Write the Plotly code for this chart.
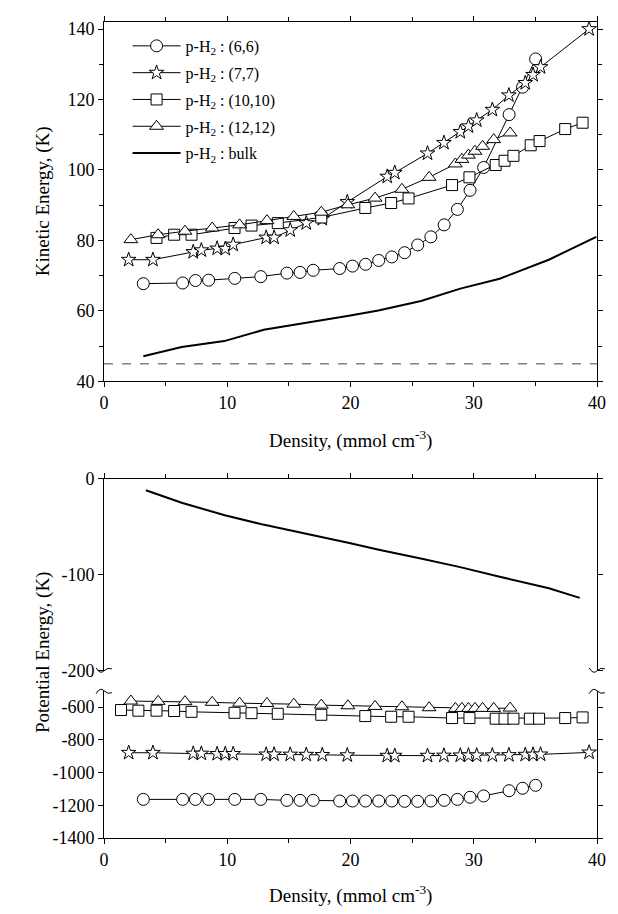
import plotly.graph_objects as go

# ---------------- data ----------------
# Kinetic energy (top panel) and potential energy (bottom panel)
x_66 = [3.19, 6.38, 7.42, 8.49, 10.61, 12.72, 14.84, 15.91, 16.97, 19.12, 20.16, 21.22,
        22.29, 23.35, 24.39, 25.45, 26.52, 27.60, 28.67, 29.70, 30.80, 32.87, 33.96, 35.02]
ke_66 = [67.7, 67.9, 68.6, 68.7, 69.2, 69.7, 70.7, 70.9, 71.5, 72.0, 72.7, 73.2,
         74.3, 75.3, 76.5, 78.7, 81.0, 84.4, 88.8, 94.2, 100.7, 115.7, 123.5, 131.5]
pe_66 = [-1164, -1164, -1164, -1164, -1164, -1164, -1170, -1170, -1170, -1174, -1174, -1174,
         -1174, -1174, -1176, -1176, -1174, -1170, -1164, -1151, -1143, -1111, -1096, -1078]

x_77 = [2.00, 3.97, 7.24, 7.90, 9.18, 9.84, 10.48, 13.16, 13.80, 15.11, 16.41, 17.71, 19.74,
        22.98, 23.59, 26.25, 27.58, 28.91, 29.57, 30.24, 31.51, 32.85, 34.18, 34.81, 35.42, 39.36]
ke_77 = [74.5, 74.5, 76.7, 77.2, 77.7, 77.6, 78.8, 80.8, 80.8, 82.9, 84.9, 86.1, 90.9,
         98.1, 99.2, 104.7, 107.7, 110.8, 112.4, 114.1, 117.1, 121.2, 124.7, 127.0, 129.2, 140.0]
pe_77 = [-879, -879, -884, -884, -886, -886, -886, -889, -889, -890, -891, -892, -894,
         -897, -897, -897, -896, -895, -895, -895, -894, -893, -891, -890, -889, -877]

x_1010_ke = [4.26, 5.69, 7.10, 10.59, 11.97, 14.10, 17.63, 21.20, 23.30, 24.71,
             28.24, 29.65, 31.78, 32.50, 33.22, 34.62, 35.34, 37.42, 38.83]
ke_1010 = [80.7, 81.6, 81.6, 83.5, 84.2, 84.9, 86.5, 89.2, 90.6, 91.9,
           95.7, 97.9, 101.4, 102.6, 104.0, 107.0, 108.2, 111.6, 113.4]
x_1010_pe = [1.38, 2.79, 4.26, 5.69, 7.10, 10.59, 11.97, 14.10, 17.63, 21.20, 23.30, 24.71,
             28.24, 29.65, 31.78, 32.50, 33.22, 34.55, 35.30, 37.42, 38.83]
pe_1010 = [-618, -622, -622, -624, -629, -635, -637, -641, -647, -655, -659, -659,
           -667, -667, -671, -671, -671, -671, -671, -667, -663]

x_1212 = [2.18, 4.39, 6.57, 8.78, 11.00, 13.22, 15.40, 17.63, 19.79, 21.99, 24.17,
          26.38, 28.51, 29.04, 29.57, 30.10, 30.72, 31.62, 32.95]
ke_1212 = [80.2, 81.6, 82.6, 83.5, 84.4, 85.6, 86.8, 88.0, 90.1, 92.0, 94.5,
           97.9, 101.7, 103.0, 104.2, 105.3, 106.7, 108.6, 110.5]
pe_1212 = [-563, -565, -567, -571, -576, -578, -582, -588, -592, -596, -598,
           -604, -608, -608, -608, -608, -608, -608, -606]

x_bulk_ke = [3.19, 6.30, 9.76, 12.96, 19.87, 22.26, 25.72, 28.91, 32.10, 36.09, 39.94]
ke_bulk = [47.1, 49.7, 51.4, 54.6, 58.6, 60.1, 62.8, 66.3, 69.1, 74.5, 81.0]
x_bulk_pe = [3.4, 6.3, 9.8, 13.0, 19.9, 22.3, 25.7, 28.9, 32.1, 36.1, 38.6]
pe_bulk = [-12, -25, -38, -48, -67, -74, -83, -92, -102, -114, -124]

ref_x = [0, 40]
ref_ke = [45, 45]

names = ["p-H<sub>2</sub> : (6,6)", "p-H<sub>2</sub> : (7,7)", "p-H<sub>2</sub> : (10,10)",
         "p-H<sub>2</sub> : (12,12)", "p-H<sub>2</sub> : bulk"]

x_ticks = [0, 10, 20, 30, 40]
ke_ticks = [40, 60, 80, 100, 120, 140]
pe_upper_ticks = [0, -100, -200]
pe_lower_ticks = [-600, -800, -1000, -1200, -1400]

# ---------------- layout geometry ----------------
W, H = 618, 914
ML, MR, MT, MB = 104, 12, 18, 76
PW, PH = W - ML - MR, H - MT - MB


def pyp(py):
    return (H - MB - py) / PH


def pxp(px):
    return (px - ML) / PW


FONT = "Liberation Serif, Times New Roman, serif"

fig = go.Figure()

series = [
    (x_66, ke_66, x_66, pe_66, "circle", 12),
    (x_77, ke_77, x_77, pe_77, "star", 11),
    (x_1010_ke, ke_1010, x_1010_pe, pe_1010, "square", 11),
    (x_1212, ke_1212, x_1212, pe_1212, "triangle-up", 12),
]

for i, (xk, yk, xp, yp, sym, sz) in enumerate(series):
    mk = dict(symbol=sym, size=sz, color="white", line=dict(color="black", width=1))
    fig.add_trace(go.Scatter(x=xk, y=yk, mode="lines+markers", name=names[i],
                             legendgroup=f"g{i}", line=dict(color="black", width=1),
                             marker=mk, xaxis="x", yaxis="y"))
    fig.add_trace(go.Scatter(x=xp, y=yp, mode="lines+markers", showlegend=False,
                             legendgroup=f"g{i}", line=dict(color="black", width=1),
                             marker=mk, xaxis="x3", yaxis="y3"))

fig.add_trace(go.Scatter(x=x_bulk_ke, y=ke_bulk, mode="lines", name=names[4], legendgroup="g4",
                         line=dict(color="black", width=2), xaxis="x", yaxis="y"))
fig.add_trace(go.Scatter(x=x_bulk_pe, y=pe_bulk, mode="lines", showlegend=False, legendgroup="g4",
                         line=dict(color="black", width=2), xaxis="x2", yaxis="y2"))
fig.add_trace(go.Scatter(x=ref_x, y=ref_ke, mode="lines", showlegend=False,
                         line=dict(color="#808080", width=1.5, dash="dash"),
                         xaxis="x", yaxis="y"))

tickfont = dict(family=FONT, size=18, color="black")
common = dict(showline=True, linecolor="black", linewidth=1, ticks="outside",
              ticklen=5, tickcolor="black", tickwidth=1, tickfont=tickfont,
              showgrid=False, zeroline=False)
xminor = dict(dtick=5, ticks="outside", ticklen=4, tickcolor="black")


def labels(vals):
    return [str(v) for v in vals]


fig.update_layout(
    width=W, height=H,
    margin=dict(l=ML, r=MR, t=MT, b=MB),
    paper_bgcolor="white", plot_bgcolor="white",
    showlegend=True,
    legend=dict(x=pxp(128), y=pyp(25), xanchor="left", yanchor="top",
                font=dict(family=FONT, size=16, color="black"),
                bgcolor="rgba(0,0,0,0)", tracegroupgap=3, itemwidth=48),
    xaxis=dict(domain=[0, 1], anchor="y", range=[0, 40], tickvals=x_ticks,
               ticktext=labels(x_ticks), minor=xminor, mirror="ticks", **common),
    yaxis=dict(domain=[pyp(379), 1], anchor="x", range=[40, 142], tickvals=ke_ticks,
               ticktext=labels(ke_ticks),
               minor=dict(dtick=10, ticks="outside", ticklen=4, tickcolor="black"),
               mirror="ticks", **common),
    xaxis2=dict(domain=[0, 1], anchor="y2", range=[0, 40], side="top", tickvals=x_ticks,
                showticklabels=False, minor=xminor, **common),
    yaxis2=dict(domain=[pyp(670), pyp(477)], anchor="x2", range=[-200, 0],
                tickvals=pe_upper_ticks, ticktext=labels(pe_upper_ticks),
                mirror="ticks", **common),
    xaxis3=dict(domain=[0, 1], anchor="y3", range=[0, 40], tickvals=x_ticks,
                ticktext=labels(x_ticks), minor=xminor, **common),
    yaxis3=dict(domain=[0, pyp(690)], anchor="x3", range=[-1400, -500],
                tickvals=pe_lower_ticks, ticktext=labels(pe_lower_ticks),
                mirror="ticks", **common),
)

titlefont = dict(family=FONT, size=19, color="black")
fig.add_annotation(text="Density, (mmol cm<sup>-3</sup>)", xref="paper", yref="paper",
                   x=0.5, y=pyp(438), xanchor="center", yanchor="middle",
                   showarrow=False, font=titlefont)
fig.add_annotation(text="Density, (mmol cm<sup>-3</sup>)", xref="paper", yref="paper",
                   x=0.5, y=pyp(895), xanchor="center", yanchor="middle",
                   showarrow=False, font=titlefont)
fig.add_annotation(text="Kinetic Energy, (K)", xref="paper", yref="paper",
                   x=pxp(42), y=pyp(198), xanchor="center", yanchor="middle",
                   textangle=-90, showarrow=False, font=titlefont)
fig.add_annotation(text="Potential Energy, (K)", xref="paper", yref="paper",
                   x=pxp(42), y=pyp(652), xanchor="center", yanchor="middle",
                   textangle=-90, showarrow=False, font=titlefont)


# axis-break squiggles
def squig(cx, cy, up):
    d = -1 if up else 1
    pts = [(cx - 8, cy - 3 * d), (cx - 4, cy + 4 * d), (cx, cy), (cx + 8, cy - 2 * d)]
    (a, b), (c, e), (f, g), (h, k) = [(pxp(p), pyp(q)) for p, q in pts]
    return f"M{a},{b} Q{c},{e} {f},{g} T{h},{k}"


for cx in (ML, W - MR):
    for cy, up in ((670, False), (690, True)):
        fig.add_shape(type="path", path=squig(cx, cy, up), xref="paper", yref="paper",
                      line=dict(color="black", width=1))

fig.write_html("out.html", config={"displayModeBar": False},
               post_script="document.body.style.margin='0';"
                           "document.body.style.overflow='hidden';")
